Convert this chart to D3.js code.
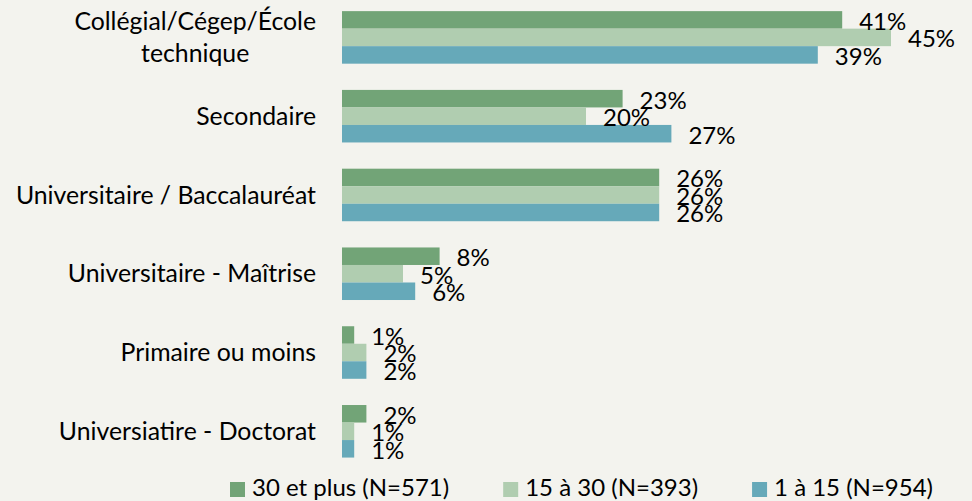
<!DOCTYPE html>
<html>
<head>
<meta charset="utf-8">
<script src="https://cdn.jsdelivr.net/npm/d3@7"></script>
<style>
  html, body { margin: 0; padding: 0; background: #f3f3ee; }
  svg { display: block; font-family: Lato, "Open Sans", sans-serif; }
</style>
</head>
<body>
<svg width="972" height="501"></svg>
<script>
// Categories (top to bottom)
const categories = [
    "Collégial/Cégep/École technique",
    "Secondaire",
    "Universitaire / Baccalauréat",
    "Universitaire - Maîtrise",
    "Primaire ou moins",
    "Universiatire - Doctorat"
];

// Series names and values (%)
const seriesNames = ["30 et plus (N=571)", "15 à 30 (N=393)", "1 à 15 (N=954)"];
const values30plus = [41, 23, 26, 8, 1, 2];
const values15to30 = [45, 20, 26, 5, 2, 1];
const values1to15 = [39, 27, 26, 6, 2, 1];
const seriesColors = ["#72a477", "#b0cdb0", "#66a9b9"];

const seriesValues = [values30plus, values15to30, values1to15];

const svg = d3.select("svg");
const catFontSize = 24.8;
const labelFontSize = 24;
const legendFontSize = 24;

// Scales
const x = d3.scaleLinear()
    .domain([0, 50])
    .range([342, 952]);

const y = d3.scaleBand()
    .domain(categories)
    .range([-2, 470.7])
    .paddingInner(0.333)
    .paddingOuter(0.1667);

const ySub = d3.scaleBand()
    .domain(d3.range(seriesNames.length))
    .range([0, y.bandwidth()]);

// Bars
const groups = svg.selectAll(".group")
    .data(categories)
    .enter().append("g")
    .attr("class", "group")
    .attr("transform", d => "translate(0," + y(d) + ")");

groups.each(function(cat, ci) {
    const g = d3.select(this);
    seriesValues.forEach(function(vals, si) {
        g.append("rect")
            .attr("x", x(0))
            .attr("y", ySub(si))
            .attr("width", x(vals[ci]) - x(0))
            .attr("height", ySub.bandwidth())
            .attr("fill", seriesColors[si]);
    });
    // Data labels
    seriesValues.forEach(function(vals, si) {
        g.append("text")
            .attr("x", x(vals[ci]) + 17)
            .attr("y", ySub(si) + ySub.bandwidth() / 2 + 1.5)
            .attr("dy", "0.35em")
            .attr("font-size", labelFontSize)
            .attr("fill", "#000")
            .text(vals[ci] + "%");
    });
});

// Category labels (wrapped, right-aligned block, lines centered)
const labelRight = 316;
const maxLabelWidth = 310;
const lineHeight = 32.7;

categories.forEach(function(cat) {
    const t = svg.append("text")
        .attr("font-size", catFontSize)
        .attr("fill", "#000")
        .attr("text-anchor", "middle");
    const words = cat.split(" ");
    const lines = [];
    let line = [];
    const probe = svg.append("text").attr("font-size", catFontSize);
    words.forEach(function(w) {
        const test = line.concat([w]).join(" ");
        probe.text(test);
        if (probe.node().getComputedTextLength() > maxLabelWidth && line.length) {
            lines.push(line.join(" "));
            line = [w];
        } else {
            line.push(w);
        }
    });
    lines.push(line.join(" "));
    let maxW = 0;
    lines.forEach(function(l) {
        probe.text(l);
        maxW = Math.max(maxW, probe.node().getComputedTextLength());
    });
    probe.remove();
    const cx = labelRight - maxW / 2;
    const cy = y(cat) + y.bandwidth() / 2;
    const firstY = cy - (lines.length - 1) * lineHeight / 2;
    lines.forEach(function(l, i) {
        t.append("tspan")
            .attr("x", cx)
            .attr("y", firstY + i * lineHeight)
            .attr("dy", "0.35em")
            .text(l);
    });
});

// Legend
const legend = svg.append("g").attr("class", "legend");
let lx = 230;
seriesNames.forEach(function(name, i) {
    legend.append("rect")
        .attr("x", lx)
        .attr("y", 482)
        .attr("width", 15)
        .attr("height", 15)
        .attr("fill", seriesColors[i]);
    const txt = legend.append("text")
        .attr("x", lx + 22)
        .attr("y", 496)
        .attr("font-size", legendFontSize)
        .attr("fill", "#000")
        .text(name);
    lx += 22 + txt.node().getComputedTextLength() + 54;
});
</script>
</body>
</html>
